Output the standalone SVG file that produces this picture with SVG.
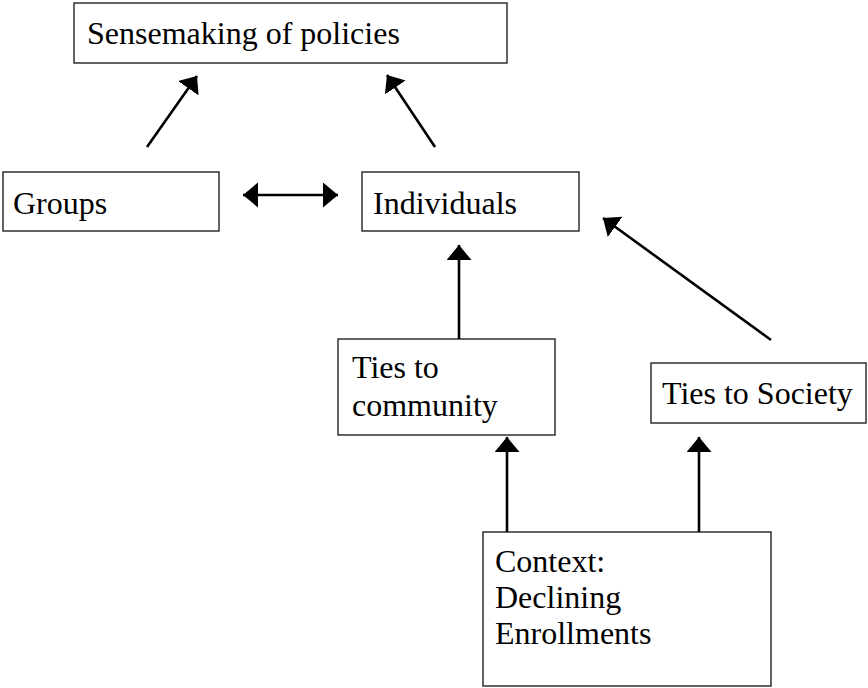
<svg xmlns="http://www.w3.org/2000/svg" width="868" height="688" viewBox="0 0 868 688">
<style>
.box{fill:#fff;stroke:#222;stroke-width:1.4}
.lbl{font-family:"Liberation Serif","Times New Roman",serif;font-size:32px;fill:#000}
.con{stroke:#000;stroke-width:2.6;fill:none;marker-end:url(#ah)}
</style>
<defs>
<marker id="ah" markerUnits="userSpaceOnUse" markerWidth="16" markerHeight="26" refX="15" refY="12.5" orient="auto-start-reverse" viewBox="0 0 16 26">
<path d="M0,0 L15,12.5 L0,25 z" fill="#000"/>
</marker>
</defs>
<rect width="868" height="688" fill="#fff"/>
<g id="n-sensemaking"><rect class="box" x="74" y="3" width="433" height="60"/><text class="lbl" x="87" y="44">Sensemaking of policies</text></g>
<g id="n-groups"><rect class="box" x="3" y="172" width="216" height="59"/><text class="lbl" x="13" y="214">Groups</text></g>
<g id="n-individuals"><rect class="box" x="362" y="172" width="217" height="59"/><text class="lbl" x="373" y="214">Individuals</text></g>
<g id="n-community"><rect class="box" x="338" y="339" width="217" height="96"/><text class="lbl" x="352" y="378">Ties to</text><text class="lbl" x="352" y="416">community</text></g>
<g id="n-society"><rect class="box" x="651" y="363" width="215" height="60"/><text class="lbl" x="662" y="404">Ties to Society</text></g>
<g id="n-context"><rect class="box" x="483" y="532" width="288" height="154"/><text class="lbl" x="495" y="572">Context:</text><text class="lbl" x="495" y="608">Declining</text><text class="lbl" x="495" y="644">Enrollments</text></g>
<g id="connectors">
<line class="con" x1="147" y1="147" x2="197" y2="76"/>
<line class="con" x1="435" y1="147" x2="387" y2="75"/>
<line class="con" x1="243" y1="195" x2="338" y2="195" style="marker-start:url(#ah)"/>
<line class="con" x1="459" y1="339" x2="459" y2="245"/>
<line class="con" x1="771" y1="340" x2="603" y2="218"/>
<line class="con" x1="507" y1="532" x2="507" y2="437"/>
<line class="con" x1="699" y1="532" x2="699" y2="437"/>
</g>
</svg>
